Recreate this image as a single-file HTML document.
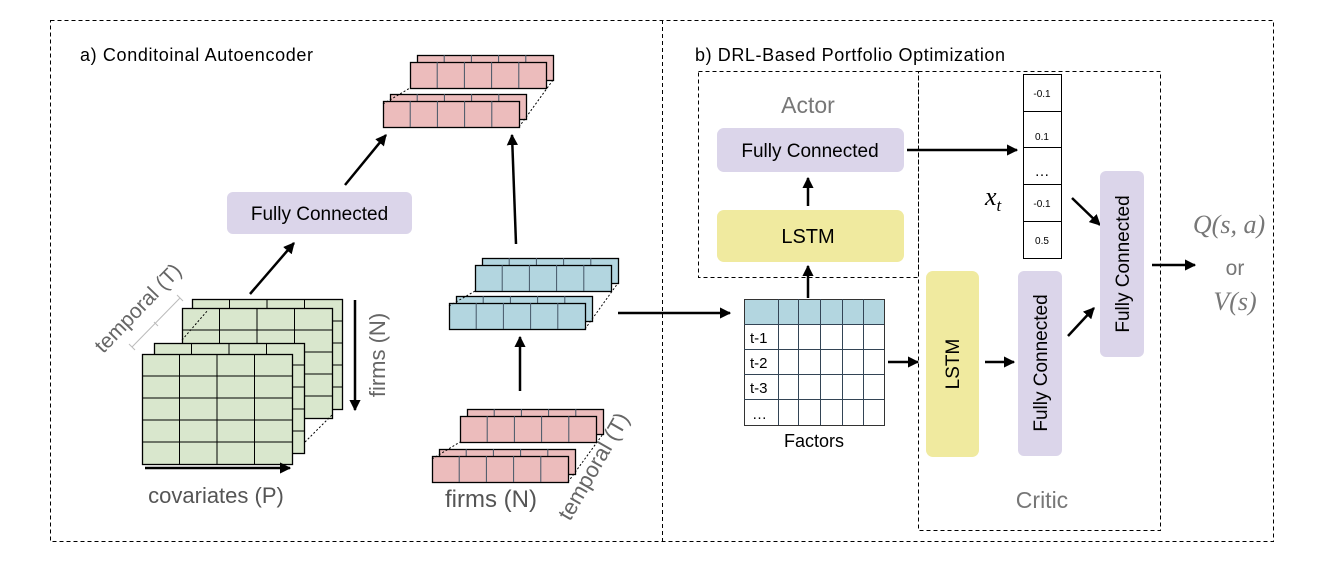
<!DOCTYPE html>
<html><head><meta charset="utf-8"><style>
html,body{margin:0;padding:0;background:#fff;width:1324px;height:572px;overflow:hidden}
svg{display:block}
text{font-family:"Liberation Sans",sans-serif}
.serif{font-family:"Liberation Serif",serif;font-style:italic}
</style></head><body>
<svg id="s" width="1324" height="572" viewBox="0 0 1324 572" xmlns="http://www.w3.org/2000/svg">
<defs>
<marker id="ah" viewBox="0 0 10 10" refX="9" refY="5" markerWidth="4.5" markerHeight="4.5" orient="auto"><path d="M0,0L10,5L0,10z" fill="#000"/></marker>
</defs>
<g fill="none" stroke="#000" stroke-width="1" stroke-dasharray="4,3">
<rect x="50.5" y="20.5" width="1223" height="521"/>
<line x1="662.5" y1="20" x2="662.5" y2="542"/>
<rect x="698.5" y="71.5" width="220" height="206"/>
<rect x="918.5" y="71.5" width="242" height="459"/>
</g>
<text x="80" y="61" font-size="18" textLength="233">a) Conditoinal Autoencoder</text>
<text x="695" y="61" font-size="18" textLength="310">b) DRL-Based Portfolio Optimization</text>
<g id="dyn"></g>
<!-- left FC -->
<rect x="227" y="192" width="185" height="42" rx="6" fill="#dbd5ea"/>
<text x="319.5" y="220" font-size="19" text-anchor="middle">Fully Connected</text>
<g stroke="#000" stroke-width="2.5" marker-end="url(#ah)" fill="none">
<line x1="250" y1="294" x2="294" y2="243"/>
<line x1="345" y1="185" x2="386" y2="135"/>
<line x1="516" y1="244" x2="512" y2="135"/>
<line x1="520" y1="391" x2="520" y2="337"/>
<line x1="618" y1="313" x2="730" y2="313"/>
<line x1="145" y1="468" x2="290" y2="468"/>
<line x1="355" y1="300" x2="355" y2="410"/>
<line x1="808" y1="298" x2="808" y2="266"/>
<line x1="808" y1="206" x2="808" y2="178"/>
<line x1="888" y1="362" x2="918" y2="362"/>
<line x1="985" y1="362" x2="1014" y2="362"/>
<line x1="1068" y1="336" x2="1094" y2="308"/>
<line x1="907" y1="150" x2="1017" y2="150"/>
<line x1="1072" y1="198" x2="1100" y2="225"/>
<line x1="1152" y1="265" x2="1195" y2="265"/>
</g>
<text x="378" y="355" font-size="22" fill="#666" text-anchor="middle" transform="rotate(-90 378 355)" dy="7">firms (N)</text>
<text x="143" y="313" font-size="21" fill="#666" text-anchor="middle" transform="rotate(-46 143 313)">temporal (T)</text>
<path d="M132,347 L180,298 M177,295 L183,301 M129,344 L135,350 M154,322 L158,326" stroke="#bbb" fill="none"/>
<text x="216" y="503" font-size="22" fill="#555" text-anchor="middle">covariates (P)</text>
<text x="491" y="507" font-size="24" fill="#555" text-anchor="middle">firms (N)</text>
<text x="600" y="470" font-size="22" fill="#666" text-anchor="middle" transform="rotate(-60 600 470)">temporal (T)</text>
<!-- Actor -->
<text x="808" y="113" font-size="23" fill="#777" text-anchor="middle">Actor</text>
<rect x="717" y="128" width="187" height="44" rx="7" fill="#dbd5ea"/>
<text x="810" y="157" font-size="19" text-anchor="middle">Fully Connected</text>
<rect x="717" y="210" width="187" height="52" rx="7" fill="#f0ea9f"/>
<text x="808" y="243" font-size="20" text-anchor="middle">LSTM</text>
<!-- Factors -->
<rect x="744" y="299" width="140" height="25" fill="#b3d6e0"/>
<g id="fac" stroke="#333" stroke-width="1" fill="none"></g>
<g font-size="15"><text x="750" y="343">t-1</text><text x="750" y="368">t-2</text><text x="750" y="393">t-3</text><text x="752" y="419">…</text></g>
<text x="814" y="447" font-size="18" text-anchor="middle">Factors</text>
<!-- Critic -->
<rect x="926" y="271" width="53" height="186" rx="7" fill="#f0ea9f"/>
<text x="952" y="364" font-size="19" text-anchor="middle" transform="rotate(-90 952 364)" dy="7">LSTM</text>
<rect x="1018" y="271" width="44" height="185" rx="6" fill="#dbd5ea"/>
<text x="1040" y="363" font-size="19" text-anchor="middle" transform="rotate(-90 1040 363)" dy="7">Fully Connected</text>
<rect x="1100" y="171" width="44" height="186" rx="6" fill="#dbd5ea"/>
<text x="1122" y="264" font-size="19" text-anchor="middle" transform="rotate(-90 1122 264)" dy="7">Fully Connected</text>
<text x="1042" y="508" font-size="23" fill="#777" text-anchor="middle">Critic</text>
<!-- vector -->
<g stroke="#000" fill="#fff"><rect x="1023.5" y="74.5" width="38" height="184"/>
<line x1="1023" y1="111.5" x2="1061" y2="111.5"/><line x1="1023" y1="147.5" x2="1061" y2="147.5"/><line x1="1023" y1="184.5" x2="1061" y2="184.5"/><line x1="1023" y1="221.5" x2="1061" y2="221.5"/></g>
<g font-size="10" text-anchor="middle"><text x="1042" y="97">-0.1</text><text x="1042" y="140">0.1</text><text x="1042" y="176" font-size="15">…</text><text x="1042" y="207">-0.1</text><text x="1042" y="244">0.5</text></g>
<text x="985" y="205" font-size="26" class="serif">x<tspan font-size="17" dy="6">t</tspan></text>
<g font-size="26" fill="#777" text-anchor="middle" class="serif">
<text x="1229" y="233" class="serif">Q(s, a)</text><text x="1235" y="310" class="serif">V(s)</text></g>
<text x="1235" y="275" font-size="21" fill="#777" text-anchor="middle">or</text>
</svg>
<script>
var NS="http://www.w3.org/2000/svg",g=document.getElementById('dyn');
function el(t,a,p){var e=document.createElementNS(NS,t);for(var k in a)e.setAttribute(k,a[k]);(p||g).appendChild(e);return e;}
function strip(x,y,w,h,c,col){el('rect',{x:x+.5,y:y+.5,width:w,height:h,fill:c,stroke:'#000','stroke-width':1.3});for(var i=1;i<5;i++)el('line',{x1:x+w*i/5,y1:y,x2:x+w*i/5,y2:y+h,stroke:col||'#456'});}
function pair(x,y,c,dash){strip(x+7,y,136,25,c);strip(x,y+7,136,26,c);}
function stack(a,b,c){pair(a[0],a[1],c);pair(b[0],b[1],c);
 el('line',{x1:a[0],y1:a[1]+10,x2:b[0],y2:b[1]+33,stroke:'#000','stroke-dasharray':'2,2'});
 el('line',{x1:a[0]+136,y1:a[1]+33,x2:b[0]+143,y2:b[1]+25,stroke:'#000','stroke-dasharray':'2,2'});}
stack([383,94],[410,55],'#ecbcbc');
stack([449,296],[475,258],'#b3d6e0');
stack([432,449],[460,409],'#ecbcbc');
function grid(x,y){el('rect',{x:x+.5,y:y+.5,width:150,height:110,fill:'#d9e7cd',stroke:'#000','stroke-width':1.3});
 for(var i=1;i<4;i++)el('line',{x1:x+37.5*i,y1:y,x2:x+37.5*i,y2:y+110,stroke:'#000'});
 for(var j=1;j<5;j++)el('line',{x1:x,y1:y+22*j,x2:x+150,y2:y+22*j,stroke:'#000'});}
grid(192,299);grid(182,308);
el('line',{x1:182,y1:340,x2:208,y2:310,stroke:'#000','stroke-dasharray':'2,2'});
grid(154,343);grid(142,354);
el('line',{x1:305,y1:442,x2:332,y2:415,stroke:'#000','stroke-dasharray':'2,2'});
var f=document.getElementById('fac');
el('rect',{x:744.5,y:299.5,width:140,height:126},f);
[778,798,820,842,863].forEach(function(x){el('line',{x1:x+.5,y1:299,x2:x+.5,y2:425,stroke:'#345'},f);});
[324,349,374,399].forEach(function(y){el('line',{x1:744,y1:y+.5,x2:884,y2:y+.5,stroke:'#345'},f);});
</script>
</body></html>
